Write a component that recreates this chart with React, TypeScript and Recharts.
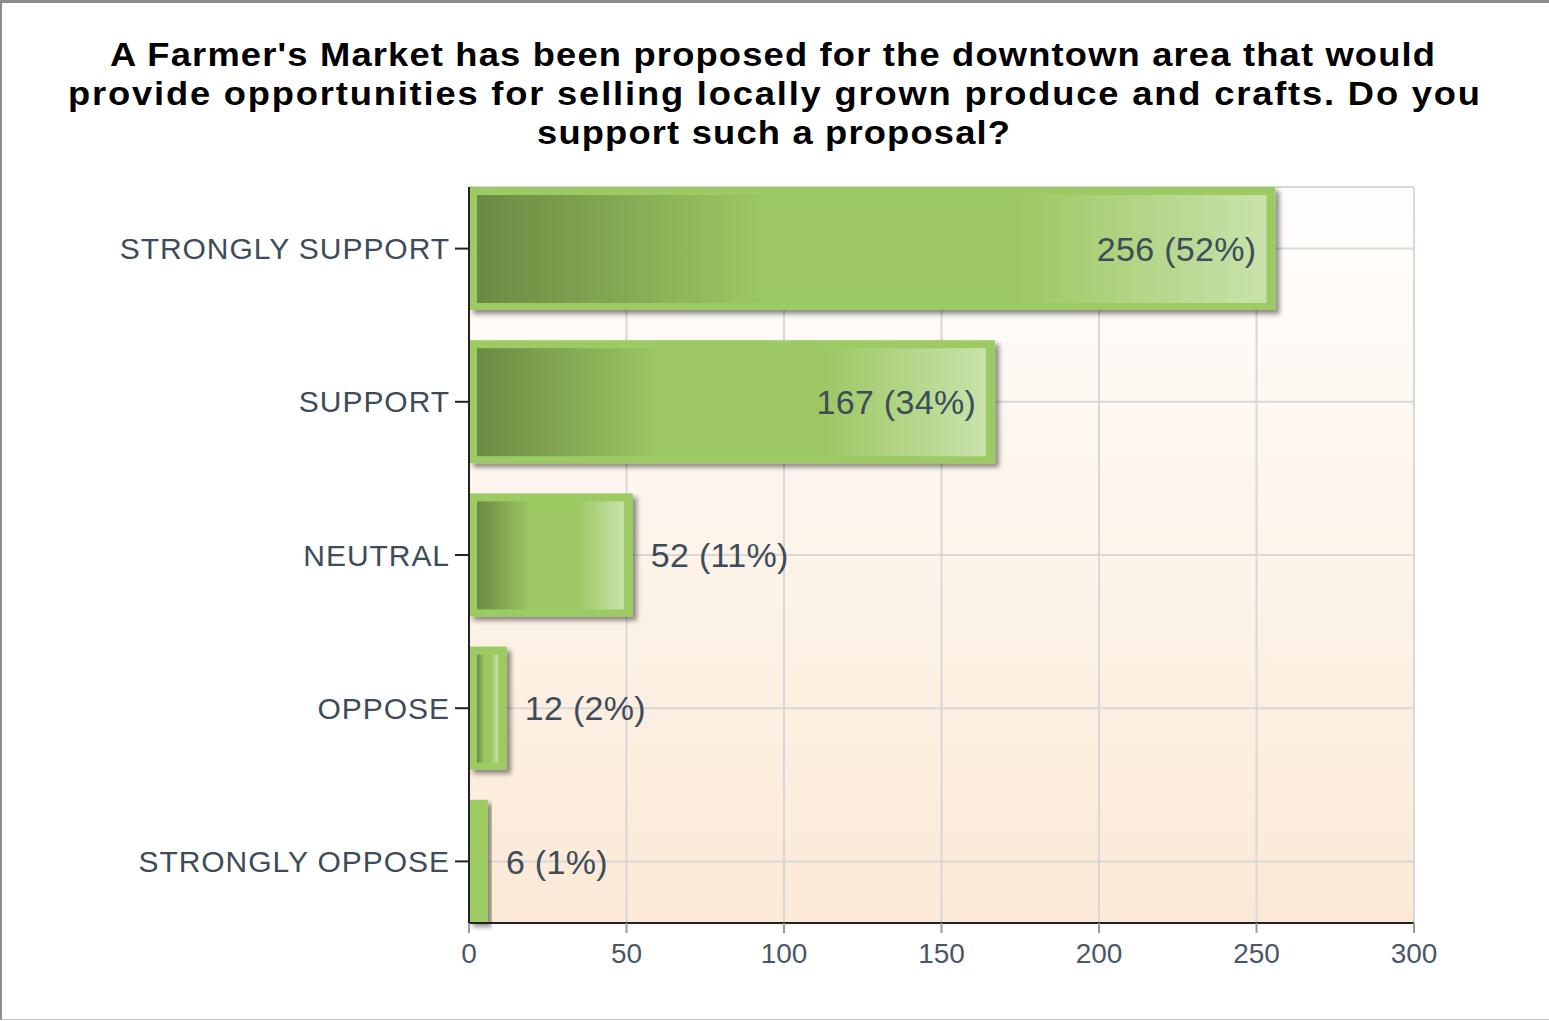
import React from 'react';
import { BarChart, Bar, XAxis, YAxis, CartesianGrid, LabelList } from 'recharts';

const categories = ['STRONGLY SUPPORT', 'SUPPORT', 'NEUTRAL', 'OPPOSE', 'STRONGLY OPPOSE'];
const counts = [256, 167, 52, 12, 6];
const percents = [52, 34, 11, 2, 1];
const xTicks = [0, 50, 100, 150, 200, 250, 300];
const titleLines = [
  "A Farmer's Market has been proposed for the downtown area that would",
  'provide opportunities for selling locally grown produce and crafts. Do you',
  'support such a proposal?',
];

const data = categories.map((c, i) => ({
  category: c,
  count: counts[i],
  label: `${counts[i]} (${percents[i]}%)`,
}));

const FONT = '"Liberation Sans", Arial, sans-serif';

const BarShape = (props: any) => {
  const { x, y, width, height } = props;
  if (!width || width <= 0) return null;
  const inner = width > 30;
  return (
    <g filter="url(#barShadow)">
      <rect x={x} y={y} width={width} height={height} fill="#9dcb63" />
      {inner && (
        <rect x={x + 8} y={y + 8} width={width - 17} height={height - 15} fill="url(#barGrad)" />
      )}
    </g>
  );
};

const renderLabel = (props: any) => {
  const { x, y, width, height, value } = props;
  const inside = width > 300;
  const tx = inside ? x + width - 19 : x + width + 18;
  return (
    <text
      x={tx}
      y={y + height / 2}
      dy="0.36em"
      textAnchor={inside ? 'end' : 'start'}
      fontSize={34}
      fontFamily={FONT}
      fill="#3e4c59"
      style={{ letterSpacing: '0.3px' }}
    >
      {value}
    </text>
  );
};

const YTick = (props: any) => {
  const { x, y, payload } = props;
  return (
    <text
      x={x}
      y={y}
      dy="0.355em"
      textAnchor="end"
      fontSize={30}
      fontFamily={FONT}
      fill="#3e4c59"
      style={{ letterSpacing: '0.95px' }}
    >
      {payload.value}
    </text>
  );
};

const XTick = (props: any) => {
  const { x, y, payload } = props;
  return (
    <text x={x} y={y} dy="0.71em" textAnchor="middle" fontSize={28} fontFamily={FONT} fill="#4a5866">
      {payload.value}
    </text>
  );
};

const SX = 1.1;
const titleSpec = [
  { cx: 772.5, y: 66, len: 1325 },
  { cx: 774, y: 105, len: 1412 },
  { cx: 773.5, y: 144, len: 473 },
];

export default function App() {
  return (
    <div style={{ position: 'absolute', left: 0, top: 0, width: 1549, height: 1021, background: '#fff', overflow: 'hidden' }}>
      <svg width={0} height={0} style={{ position: 'absolute' }}>
        <defs>
          <linearGradient id="bgGrad" x1="0" y1="0" x2="0" y2="1">
            <stop offset="0%" stopColor="#fffefd" />
            <stop offset="100%" stopColor="#fbe9d6" />
          </linearGradient>
          <linearGradient id="barGrad" x1="0" y1="0" x2="1" y2="0">
            <stop offset="0%" stopColor="#6b8a43" />
            <stop offset="36%" stopColor="#9cc863" />
            <stop offset="68%" stopColor="#9cc863" />
            <stop offset="100%" stopColor="#c9e2ab" />
          </linearGradient>
          <filter id="barShadow" x="-10%" y="-10%" width="130%" height="130%">
            <feDropShadow dx="4" dy="4" stdDeviation="2.5" floodColor="#000" floodOpacity="0.45" />
          </filter>
        </defs>
      </svg>
      <div style={{ position: 'absolute', left: 0, top: 0 }}>
        <BarChart
          width={1549}
          height={1021}
          data={data}
          layout="vertical"
          margin={{ top: 187, right: 135, bottom: 38, left: 0 }}
          barCategoryGap={15}
        >
          <CartesianGrid stroke="#d8d8d8" strokeWidth={2} fill="url(#bgGrad)" fillOpacity={1} />
          <Bar dataKey="count" isAnimationActive={false} shape={BarShape}>
            <LabelList dataKey="label" content={renderLabel} />
          </Bar>
          <XAxis
            type="number"
            domain={[0, 300]}
            ticks={xTicks}
            height={60}
            tickSize={10}
            tickMargin={10}
            axisLine={{ stroke: '#222', strokeWidth: 2 }}
            tickLine={{ stroke: '#999', strokeWidth: 2 }}
            tick={<XTick />}
            interval={0}
          />
          <YAxis
            type="category"
            dataKey="category"
            width={469}
            padding={{ top: -15, bottom: -15 }}
            tickSize={14}
            tickMargin={5}
            axisLine={{ stroke: '#222', strokeWidth: 2 }}
            tickLine={{ stroke: '#222', strokeWidth: 2 }}
            tick={<YTick />}
            interval={0}
          />
        </BarChart>
      </div>
      <svg width={1549} height={170} style={{ position: 'absolute', left: 0, top: 0 }}>
        {titleLines.map((line, i) => (
          <text
            key={i}
            transform={`translate(${titleSpec[i].cx},0) scale(${SX},1)`}
            x={0}
            y={titleSpec[i].y}
            textAnchor="middle"
            fontSize={33}
            fontWeight="bold"
            fontFamily={FONT}
            fill="#000"
            textLength={titleSpec[i].len / SX}
            lengthAdjust="spacing"
          >
            {line}
          </text>
        ))}
      </svg>
      <div
        style={{
          position: 'absolute',
          left: 0,
          top: 0,
          width: 1549,
          height: 1020,
          boxSizing: 'border-box',
          borderTop: '3px solid #8c8c8c',
          borderLeft: '2px solid #8c8c8c',
          borderBottom: '1px solid #c4c4c4',
          pointerEvents: 'none',
        }}
      />
    </div>
  );
}
